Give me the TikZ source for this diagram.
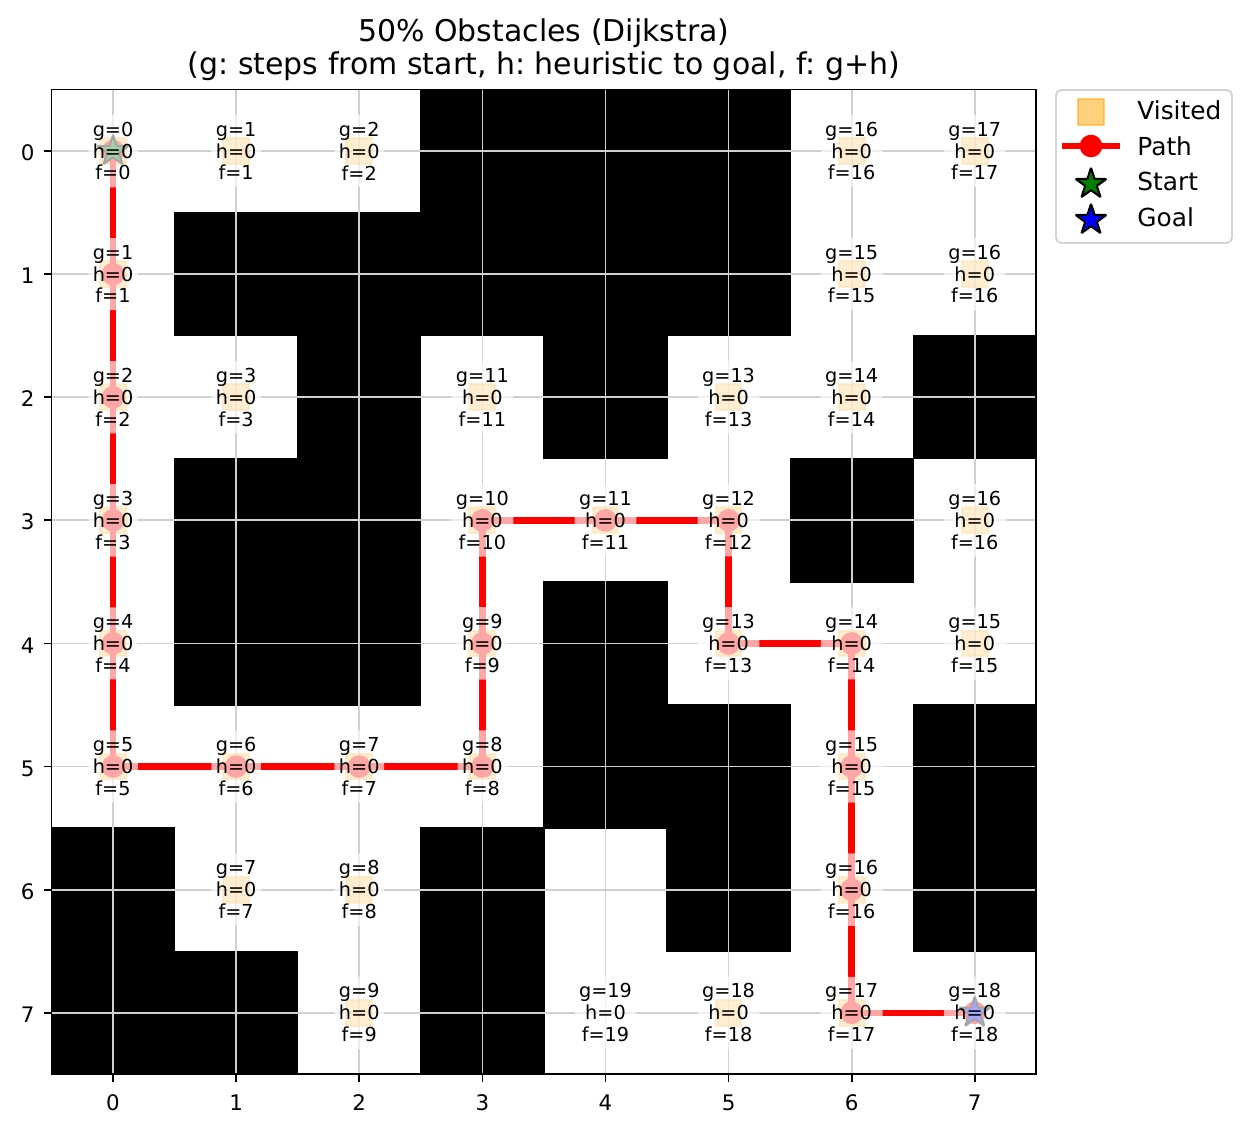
\documentclass[tikz,border=0pt]{standalone}
\usepackage{fontspec}
\setmainfont{DejaVu Sans}
\frenchspacing
\definecolor{mplorange}{RGB}{255,165,0}
\definecolor{mplgreen}{RGB}{0,128,0}
\definecolor{mplblue}{RGB}{0,0,255}
\definecolor{mplred}{RGB}{255,0,0}
\definecolor{gridgray}{RGB}{208,208,208}
\definecolor{legendedge}{RGB}{212,212,212}
\tikzset{
  obstacle/.style={fill=black},
  gridline/.style={draw=gridgray, line width=0.8pt},
  visited/.style={fill=mplorange, draw=mplorange, fill opacity=0.5, draw opacity=0.5, line width=1pt},
  pathline/.style={draw=mplred, line width=3pt, line join=round},
  pathdot/.style={fill=mplred},
  starmark/.style={draw=black, line width=1pt, line join=bevel},
  celllabel/.style={align=center, font=\fontsize{9}{10.2}\selectfont, fill=white, fill opacity=0.65, text opacity=1, inner xsep=2.1pt, inner ysep=3.35pt, rounded corners=1.8pt},
  ticklabel/.style={font=\fontsize{10}{12}\selectfont, inner sep=0pt},
  legendlabel/.style={font=\fontsize{11.6}{14}\selectfont, inner sep=0pt, anchor=base west},
  titlelabel/.style={font=\fontsize{14}{16.8}\selectfont, inner sep=0pt, anchor=base},
  axisline/.style={draw=black, line width=0.8pt},
}
\newcommand{\mpstar}[2]{%
  \filldraw[starmark, fill=#2, shift={(#1)}] (90:7.5pt) -- (126:2.865pt) -- (162:7.5pt) -- (198:2.865pt) -- (234:7.5pt) -- (270:2.865pt) -- (306:7.5pt) -- (342:2.865pt) -- (18:7.5pt) -- (54:2.865pt) -- cycle;}
\begin{document}
\begin{tikzpicture}[x=0.4675pt, y=-0.4675pt]
\fill[white] (0,0) rectangle (1248,1134);
\useasboundingbox (0,0) rectangle (1248,1134);
\begin{scope}[shift={(113.05,151.05)}, x=57.55pt, y=-57.55pt]
  % obstacles
  \foreach \r/\c in {0/3,0/4,0/5,1/1,1/2,1/3,1/4,1/5,2/2,2/4,2/7,3/1,3/2,3/6,4/1,4/2,4/4,5/4,5/5,5/7,6/0,6/3,6/5,6/7,7/0,7/1,7/3}
    \fill[obstacle] (\c-0.505,\r-0.505) rectangle (\c+0.505,\r+0.505);
  % grid
  \foreach \i in {0,...,7} {
    \draw[gridline] (\i,-0.5) -- (\i,7.5);
    \draw[gridline] (-0.5,\i) -- (7.5,\i);
  }
  % visited squares
  \foreach \r/\c in {0/0,0/1,0/2,0/6,0/7,1/0,1/6,1/7,2/0,2/1,2/3,2/5,2/6,3/0,3/3,3/4,3/5,3/7,4/0,4/3,4/5,4/6,4/7,5/0,5/1,5/2,5/3,5/6,6/1,6/2,6/6,7/2,7/5,7/6}
    \filldraw[visited] (\c,\r) ++(-6pt,-6pt) rectangle ++(12pt,12pt);
  % path
  \foreach \r/\c [count=\k from 0] in {0/0,1/0,2/0,3/0,4/0,5/0,5/1,5/2,5/3,4/3,3/3,3/4,3/5,4/5,4/6,5/6,6/6,7/6,7/7}
    \coordinate (p\k) at (\c,\r);
  \draw[pathline] (p0) -- (p1) -- (p2) -- (p3) -- (p4) -- (p5) -- (p6) -- (p7) -- (p8) -- (p9) -- (p10) -- (p11) -- (p12) -- (p13) -- (p14) -- (p15) -- (p16) -- (p17) -- (p18);
  \foreach \k in {0,...,18}
    \fill[pathdot] (p\k) circle (5.3pt);
  % start and goal
  \mpstar{p0}{mplgreen}
  \mpstar{p18}{mplblue}
  % cell labels
  \foreach \r/\c/\g in {0/0/0,0/1/1,0/2/2,0/6/16,0/7/17,1/0/1,1/6/15,1/7/16,2/0/2,2/1/3,2/3/11,2/5/13,2/6/14,3/0/3,3/3/10,3/4/11,3/5/12,3/7/16,4/0/4,4/3/9,4/5/13,4/6/14,4/7/15,5/0/5,5/1/6,5/2/7,5/3/8,5/6/15,6/1/7,6/2/8,6/6/16,7/2/9,7/4/19,7/5/18,7/6/17,7/7/18}
    \node[celllabel] (t\r\c) at (\c,\r) {g=\g\\h=0\\f=\g};
  % frame and ticks
  \draw[axisline] (-0.5,-0.5) rectangle (7.5,7.5);
  \foreach \i in {0,...,7} {
    \draw[axisline] (\i,7.5) -- ++(0,-3.5pt);
    \draw[axisline] (-0.5,\i) -- ++(-3.5pt,0);
  }
\end{scope}
% tick labels
\foreach \i in {0,...,7} {
  \node[ticklabel, anchor=base] (xt\i) at ({113.05+123.1*\i},1110.7) {\i};
  \node[ticklabel, anchor=base east] (yt\i) at (35,{160.6+123.1*\i}) {\i};
}
% title
\node[titlelabel] (title1) at (543.9,41.7) {50\% Obstacles (Dijkstra)};
\node[titlelabel] (title2) at (543.9,74.3) {(g: steps from start, h: heuristic to goal, f: g+h)};
% legend
\draw[draw=legendedge, line width=0.9pt, fill=white, rounded corners=2.5pt] (1056,90) rectangle (1232,243);
\coordinate (lv) at (1091,112);
\coordinate (lpa) at (1062,146);
\coordinate (lpb) at (1119.5,146);
\coordinate (lpc) at (1091,146);
\coordinate (ls) at (1091,184);
\coordinate (lg) at (1091,220);
\filldraw[visited] (lv) ++(-6pt,-6pt) rectangle ++(12pt,12pt);
\draw[pathline] (lpa) -- (lpb);
\fill[pathdot] (lpc) circle (5.3pt);
\mpstar{ls}{mplgreen}
\mpstar{lg}{mplblue}
\node[legendlabel] (lt1) at (1137,119.3) {Visited};
\node[legendlabel] (lt2) at (1137,155.1) {Path};
\node[legendlabel] (lt3) at (1137,190.9) {Start};
\node[legendlabel] (lt4) at (1137,226.7) {Goal};
\end{tikzpicture}
\end{document}
